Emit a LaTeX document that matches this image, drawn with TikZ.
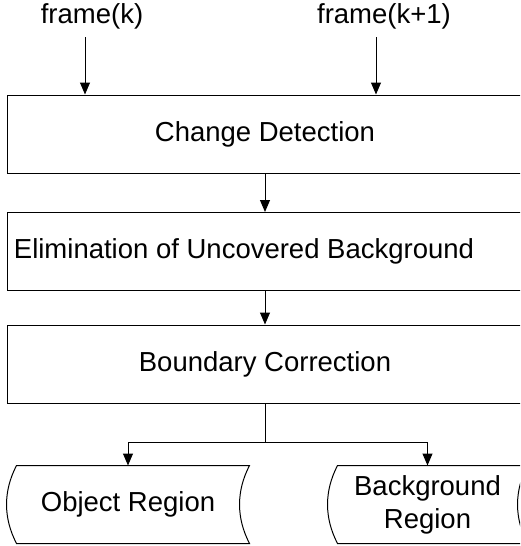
\documentclass[tikz,border=0pt]{standalone}
\usepackage{fontspec}
\setmainfont{Liberation Sans}
\usetikzlibrary{arrows.meta,calc}
\begin{document}
\begin{tikzpicture}[x=1pt, y=-1pt, line width=1pt]
  \useasboundingbox (0,0) rectangle (520,546);
  \clip (0,0) rectangle (520,546);  % Boxes run past the right edge.
  \tikzstyle{txt}=[inner sep=8pt, font=\fontsize{27.5pt}{33pt}\selectfont]
  \tikzstyle{block}=[txt, draw, rectangle, minimum width=516pt, minimum height=78pt, inner sep=0pt]
  \tikzstyle{store}=[txt, rectangle, minimum height=77pt, inner sep=0pt, align=center]
  \tikzstyle{flow}=[-{Triangle[width=10pt, length=12pt]}]

  \node[txt]   (fk)  at (92,   16)    {frame(k)};
  \node[txt]   (fk1) at (384,  16)    {frame(k+1)};
  \node[block] (cd)  at (265,  134)   {Change Detection};
  \node[block] (el)  at (265,  251.5) {Elimination of Uncovered Background\hspace*{42pt}};
  \node[block] (bc)  at (265,  364)   {Boundary Correction};
  \coordinate  (split) at (265, 442);
  \node[store, minimum width=232pt] (obj) at (128,   504.5) {Object Region};
  \node[store, minimum width=189pt] (bg)  at (427.5, 504.5) {Background\\Region};

  \foreach \n in {obj, bg}
    \draw ($(\n.north west)+(5,0)$) -- ($(\n.north east)+(5,0)$)
      .. controls ($(\n.north east)+(-8.3,25.7)$) and ($(\n.south east)+(-8.3,-25.7)$) .. ($(\n.south east)+(5,0)$)
      -- ($(\n.south west)+(5,0)$)
      .. controls ($(\n.south west)+(-8.3,-25.7)$) and ($(\n.north west)+(-8.3,25.7)$) .. cycle;

  \draw[flow] ([xshift=-7pt]fk.south)  -- ([xshift=-7pt]fk.south |- cd.north);
  \draw[flow] ([xshift=-8pt]fk1.south) -- ([xshift=-8pt]fk1.south |- cd.north);
  \draw[flow] (cd) -- (el);
  \draw[flow] (el) -- (bc);
  \draw (bc) -- (split);
  \draw[flow] (split) -| (obj.north);
  \draw[flow] (split) -| (bg.north);
\end{tikzpicture}
\end{document}
